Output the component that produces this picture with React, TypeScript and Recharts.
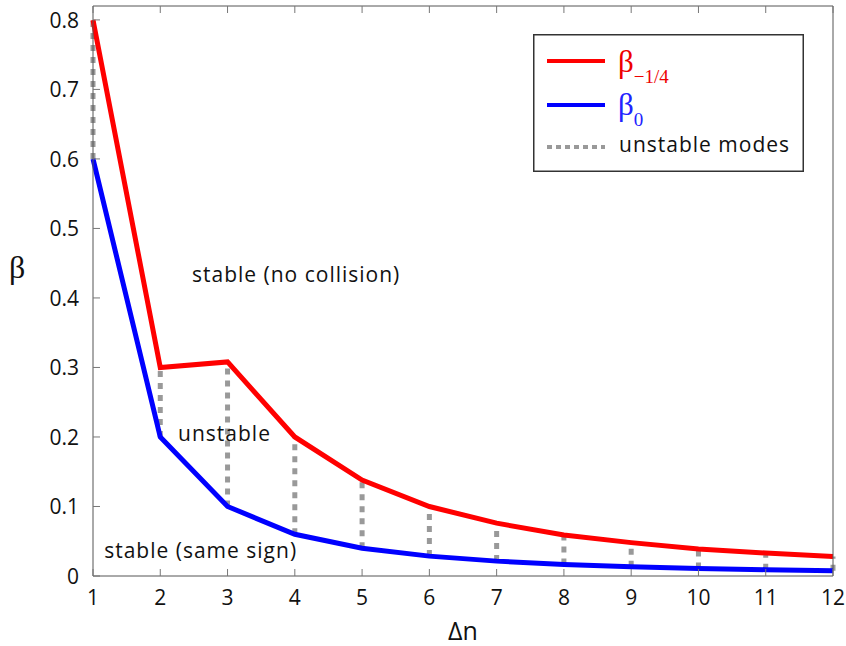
import {
  ComposedChart,
  Line,
  XAxis,
  YAxis,
  ReferenceLine,
  ReferenceDot,
  Legend,
} from "recharts";

const deltaN = [1, 2, 3, 4, 5, 6, 7, 8, 9, 10, 11, 12];
const betaQuarter = [0.8, 0.3, 0.308, 0.2, 0.138, 0.1, 0.076, 0.059, 0.048, 0.039, 0.033, 0.028];
const betaZero = [0.6, 0.2, 0.1, 0.06, 0.04, 0.0286, 0.0214, 0.0167, 0.0133, 0.0109, 0.0091, 0.0077];
const yTicks = [0, 0.1, 0.2, 0.3, 0.4, 0.5, 0.6, 0.7, 0.8];
const annotations = [
  { x: 4.02, y: 0.434, text: "stable (no collision)" },
  { x: 2.955, y: 0.205, text: "unstable" },
  { x: 2.6, y: 0.036, text: "stable (same sign)" },
];

const data = deltaN.map((n, i) => ({ n, red: betaQuarter[i], blue: betaZero[i] }));

const SANS = "'Open Sans', sans-serif";
const SERIF = "'Liberation Serif', 'DejaVu Serif', serif";
const AXIS = "#555";
const TICK_COLOR = "#777";
const TICK_LEN = 7;

// matlab-style ticks: mark points inward, label sits outside
function BottomTick({ x, y, payload }: any) {
  return (
    <g>
      <line x1={x} x2={x} y1={y} y2={y - TICK_LEN} stroke={TICK_COLOR} />
      <text x={x} y={y + 29} textAnchor="middle" fontSize={21} fill="#111" fontFamily={SANS}>
        {payload.value}
      </text>
    </g>
  );
}

function LeftTick({ x, y, payload }: any) {
  return (
    <g>
      <line x1={x} x2={x + TICK_LEN} y1={y} y2={y} stroke={TICK_COLOR} />
      <text x={x - 14} y={y + 8} textAnchor="end" fontSize={21} fill="#111" fontFamily={SANS}>
        {payload.value}
      </text>
    </g>
  );
}

function TopTick({ x, y }: any) {
  return <line x1={x} x2={x} y1={y} y2={y + TICK_LEN} stroke={TICK_COLOR} />;
}

function RightTick({ x, y }: any) {
  return <line x1={x} x2={x - TICK_LEN} y1={y} y2={y} stroke={TICK_COLOR} />;
}

function LegendBox() {
  return (
    <svg width={271} height={138} style={{ display: "block" }}>
      <rect x={0.75} y={0.75} width={269.5} height={136.5} fill="#fff" stroke="#333" strokeWidth={1.5} />
      <line x1={14} x2={72} y1={27} y2={27} stroke="#ff0000" strokeWidth={4} />
      <text x={85} y={38} fill="#ee0000" fontFamily={SERIF} fontSize={31}>
        β<tspan fontSize={19} dy={11}>−1/4</tspan>
      </text>
      <line x1={14} x2={72} y1={71} y2={71} stroke="#0000ff" strokeWidth={4} />
      <text x={85} y={81} fill="#2222ff" fontFamily={SERIF} fontSize={31}>
        β<tspan fontSize={19} dy={11}>0</tspan>
      </text>
      <line x1={14} x2={72} y1={113} y2={113} stroke="#999" strokeWidth={4} strokeDasharray="5 4" />
      <text x={86} y={118} fill="#111" fontFamily={SANS} fontSize={21} letterSpacing={1}>
        unstable modes
      </text>
    </svg>
  );
}

export default function App() {
  return (
    <div style={{ position: "absolute", left: 0, top: 0, background: "#fff" }}>
      <ComposedChart
        width={846}
        height={646}
        data={data}
        margin={{ top: 5, right: 12, left: 8, bottom: 6 }}
      >
        <XAxis
          dataKey="n"
          type="number"
          domain={[1, 12]}
          ticks={deltaN}
          height={64}
          tickSize={0}
          tickMargin={0}
          tickLine={false}
          tick={<BottomTick />}
          stroke={AXIS}
          label={{ value: "Δn", position: "insideBottom", offset: 0, fontSize: 25, fill: "#111", fontFamily: SANS }}
        />
        <XAxis
          xAxisId="top"
          orientation="top"
          dataKey="n"
          type="number"
          domain={[1, 12]}
          ticks={deltaN}
          height={1}
          tickSize={0}
          tickMargin={0}
          tickLine={false}
          tick={<TopTick />}
          stroke={AXIS}
        />
        <YAxis
          type="number"
          domain={[0, 0.82]}
          ticks={yTicks}
          width={85}
          tickSize={0}
          tickMargin={0}
          tickLine={false}
          tick={<LeftTick />}
          stroke={AXIS}
          label={{ value: "β", position: "insideLeft", offset: 1, dy: -24, fontSize: 32, fill: "#111", fontFamily: SERIF }}
        />
        <YAxis
          yAxisId="right"
          orientation="right"
          type="number"
          domain={[0, 0.82]}
          ticks={yTicks}
          width={1}
          tickSize={0}
          tickMargin={0}
          tickLine={false}
          tick={<RightTick />}
          stroke={AXIS}
        />
        {deltaN.map((n, i) => (
          <ReferenceLine
            key={n}
            segment={[
              { x: n, y: betaZero[i] },
              { x: n, y: betaQuarter[i] },
            ]}
            stroke="#999"
            strokeWidth={5}
            strokeDasharray="6 6"
          />
        ))}
        {annotations.map((a) => (
          <ReferenceDot
            key={a.text}
            x={a.x}
            y={a.y}
            r={0}
            fill="none"
            stroke="none"
            label={{ value: a.text, position: "center", fontSize: 21, letterSpacing: 1, fill: "#111", fontFamily: SANS }}
          />
        ))}
        <Line
          type="linear"
          dataKey="red"
          stroke="#ff0000"
          strokeWidth={5}
          dot={false}
          isAnimationActive={false}
        />
        <Line
          type="linear"
          dataKey="blue"
          stroke="#0000ff"
          strokeWidth={5}
          dot={false}
          isAnimationActive={false}
        />
        <Legend
          layout="vertical"
          align="center"
          verticalAlign="middle"
          content={() => <LegendBox />}
          wrapperStyle={{ left: 533, top: 34, width: 271, height: 138 }}
        />
      </ComposedChart>
    </div>
  );
}
